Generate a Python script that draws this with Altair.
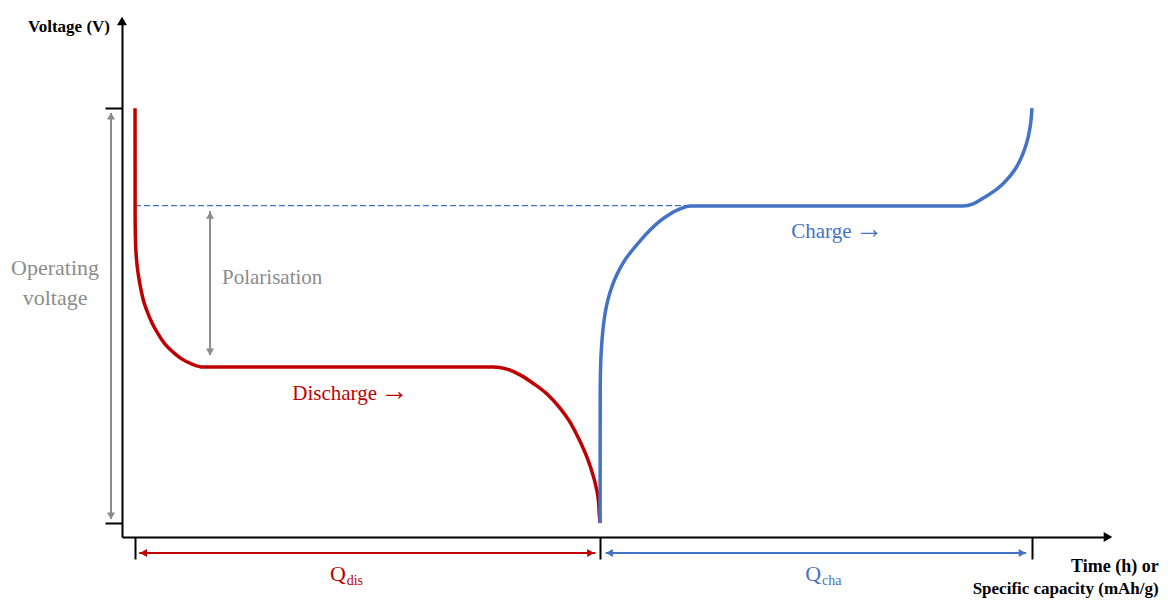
import altair as alt
import pandas as pd

RED = "#C00000"
BLUE = "#4472C4"
GRAY = "#8C8C8C"
FONT = "Liberation Serif"

# ---- curve data (x: capacity, % of Q_dis; y: voltage, arbitrary units) ----
dis_q = [0.0, 0.02, 0.11, 0.32, 0.65, 1.08, 1.72, 2.58, 3.66, 4.95, 6.45, 8.17,
         10.11, 12.26, 14.62,
         76.97, 79.98, 82.78, 85.57, 88.58, 91.16, 93.53, 95.46, 96.97, 98.26,
         99.12, 99.66, 99.87, 100.0]
dis_v = [10.0, 7.38, 6.77, 6.36, 6.03, 5.74, 5.40, 5.11, 4.82, 4.56, 4.31, 4.12,
         3.95, 3.83, 3.76,
         3.76, 3.71, 3.57, 3.37, 3.11, 2.80, 2.43, 2.02, 1.64, 1.23,
         0.87, 0.51, 0.14, 0.0]
cha_q = [100.0, 100.02, 100.11, 100.32, 100.65, 101.08, 101.72, 102.58, 103.66,
         104.95, 106.45, 108.6, 110.75, 112.9, 115.05, 117.2, 119.35,
         178.03, 180.18, 182.33, 184.48, 186.63, 188.13, 189.64, 190.71,
         191.57, 192.22, 192.65, 192.86]
cha_v = [0.0, 3.21, 3.78, 4.27, 4.70, 5.06, 5.40, 5.71, 6.00,
         6.27, 6.51, 6.80, 7.06, 7.28, 7.45, 7.57, 7.64,
         7.64, 7.69, 7.83, 7.98, 8.18, 8.36, 8.60, 8.85,
         9.11, 9.40, 9.71, 10.0]

V_MIN, V_MAX = 0.0, 10.0
Q_DIS, Q_END = 100.0, 192.86
V_CHA_PLATEAU = 7.65

X_DOMAIN = [-2.8, 209.2]
Y_DOMAIN = [-0.337, 12.10]

xs = alt.Scale(domain=X_DOMAIN, nice=False, zero=False)
ys = alt.Scale(domain=Y_DOMAIN, nice=False, zero=False)
xaxis = alt.Axis(values=[0, Q_DIS, Q_END], labels=False, title=None, grid=False,
                 domainColor="black", domainWidth=2, tickColor="black",
                 tickWidth=2, tickSize=22)
yaxis = alt.Axis(values=[V_MIN, V_MAX], labels=False, title=None, grid=False,
                 domainColor="black", domainWidth=2, tickColor="black",
                 tickWidth=2, tickSize=17)


def X(f="q"):
    return alt.X(f, type="quantitative", scale=xs, axis=xaxis)


def Y(f="v"):
    return alt.Y(f, type="quantitative", scale=ys, axis=yaxis)


# ---- curves ----
dis_df = pd.DataFrame({"q": dis_q, "v": dis_v})
cha_df = pd.DataFrame({"q": cha_q, "v": cha_v})
dis_line = alt.Chart(dis_df).mark_line(interpolate="monotone", color=RED,
                                       strokeWidth=3.5).encode(x=X(), y=Y())
cha_line = alt.Chart(cha_df).mark_line(interpolate="monotone", color=BLUE,
                                       strokeWidth=3.5).encode(x=X(), y=Y())

# ---- dashed reference line (charge plateau) ----
dash_df = pd.DataFrame({"q": [0.0], "q2": [119.4], "v": [V_CHA_PLATEAU]})
dash = alt.Chart(dash_df).mark_rule(color=BLUE, strokeWidth=1.3,
                                    strokeDash=[6, 3]).encode(
    x=X(), x2="q2:Q", y=Y())

# ---- double arrows (shafts) ----
shafts_df = pd.DataFrame({
    "q":  [-5.16, 16.13, 0.9, 101.2],
    "q2": [-5.16, 16.13, 99.0, 191.6],
    "v":  [9.88, 7.52, -0.72, -0.72],
    "v2": [0.10, 4.05, -0.72, -0.72],
    "c":  [GRAY, GRAY, RED, BLUE],
})
shafts = alt.Chart(shafts_df).mark_rule(strokeWidth=2).encode(
    x=X(), x2="q2:Q", y=Y(), y2="v2:Q",
    color=alt.Color("c:N", scale=None))

# ---- arrow heads ----
heads_df = pd.DataFrame({
    "q": [-5.16, -5.16, 16.13, 16.13, 1.83, 97.96, 102.0, 190.75],
    "v": [9.81, 0.17, 7.42, 4.12, -0.72, -0.72, -0.72, -0.72],
    "s": ["triangle-up", "triangle-down", "triangle-up", "triangle-down",
          "triangle-left", "triangle-right", "triangle-left", "triangle-right"],
    "c": [GRAY, GRAY, GRAY, GRAY, RED, RED, BLUE, BLUE],
})
heads = alt.Chart(heads_df).mark_point(filled=True, opacity=1, size=64,
                                       strokeWidth=0).encode(
    x=X(), y=Y(), shape=alt.Shape("s:N", scale=None),
    color=alt.Color("c:N", scale=None))

axis_heads_df = pd.DataFrame({
    "q": [X_DOMAIN[0], X_DOMAIN[1]],
    "v": [Y_DOMAIN[1], Y_DOMAIN[0]],
    "s": ["triangle-up", "triangle-right"],
})
axis_heads = alt.Chart(axis_heads_df).mark_point(filled=True, opacity=1, size=100,
                                                 color="black", strokeWidth=0).encode(
    x=X(), y=Y(), shape=alt.Shape("s:N", scale=None))


# ---- text annotations ----
def text_layer(rows, align, bold=False, font=FONT):
    df = pd.DataFrame(rows, columns=["t", "q", "v", "c", "fs"])
    return alt.Chart(df).mark_text(
        align=align, baseline="alphabetic", font=font,
        fontWeight="bold" if bold else "normal",
        lineBreak="\n", lineHeight=30,
    ).encode(x=X(), y=Y(), text="t:N",
             color=alt.Color("c:N", scale=None),
             size=alt.Size("fs:Q", scale=None))


txt_left = text_layer([
    ["Polarisation", 18.7, 5.76, GRAY, 21],
    ["Discharge", 33.8, 2.96, RED, 21],
    ["Charge", 141.1, 6.87, BLUE, 21],
    ["Q", 41.9, -1.40, RED, 22],
    ["dis", 45.5, -1.50, RED, 14],
    ["Q", 144.1, -1.40, BLUE, 22],
    ["cha", 147.7, -1.50, BLUE, 14],
], "left")
txt_arrows = text_layer([
    ["\u2192", 52.7, 2.96, RED, 28],
    ["\u2192", 154.8, 6.87, BLUE, 28],
], "left")
txt_center = text_layer([
    ["Operating\nvoltage", -17.2, 5.98, GRAY, 22],
], "center")
txt_bold_right = text_layer([
    ["Voltage (V)", -5.38, 11.83, "black", 17],
    ["Time (h) or", 220.1, -1.18, "black", 18],
    ["Specific capacity (mAh/g)", 220.1, -1.72, "black", 17],
], "right", bold=True)

chart = alt.layer(
    dash, shafts, heads, dis_line, cha_line, axis_heads,
    txt_left, txt_arrows, txt_center, txt_bold_right,
).properties(
    width=986, height=516,
    autosize=alt.AutoSizeParams(type="none"),
    padding={"left": 114, "top": 13, "right": 52, "bottom": 63},
).configure_view(strokeWidth=0)

chart.save("out.html", embed_options={"renderer": "svg", "actions": False})
